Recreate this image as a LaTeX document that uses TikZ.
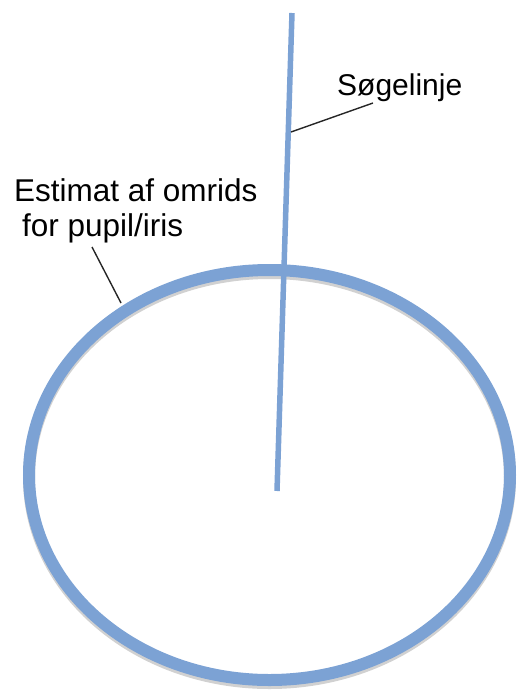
\documentclass[tikz,border=0pt]{standalone}
\usepackage{fontspec}
\setmainfont{Liberation Sans}
\definecolor{irisblue}{RGB}{124,162,212}
\begin{document}
\begin{tikzpicture}[x=1pt, y=-1pt,
    font=\fontsize{30}{35}\selectfont,
    outline/.style={draw=irisblue, line width=12pt},
    shade/.style={draw=black!18, line width=12pt},
    searchline/.style={draw=irisblue, line width=5.5pt},
    leader/.style={draw=black!85, line width=1.4pt},
    label/.style={inner sep=0pt, align=left}]
\useasboundingbox (0,0) rectangle (518,694);
% estimated outline
\coordinate (centre) at (269.5,475);
\draw[shade] (269.5,478) ellipse [x radius=240.5, y radius=205];
\draw[outline] (centre) ellipse [x radius=240.5, y radius=205];
% search line
\coordinate (top) at (292,13);
\coordinate (tip) at (277,491);
\draw[searchline] (top) -- (tip);
% labels
\node[label, anchor=base west] (soeg) at (337,95) {Søgelinje};
\node[label, anchor=base west, font=\fontsize{31.5}{35}\selectfont]
  (estimat) at (14,236)
  {Estimat af omrids\\\hspace{8pt}for pupil/iris};
\coordinate (soegend) at (373,103);
\coordinate (soegpt) at (291,132);
\coordinate (estend) at (92,247);
\coordinate (estpt) at (121,303);
\draw[leader] (soegend) -- (soegpt);
\draw[leader] (estend) -- (estpt);
\end{tikzpicture}
\end{document}
